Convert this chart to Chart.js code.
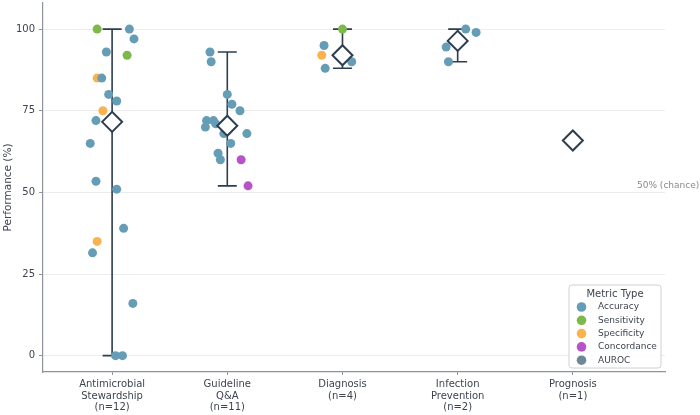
<!DOCTYPE html>
<html>
<head>
<meta charset="utf-8">
<script src="https://cdn.jsdelivr.net/npm/chart.js@4/dist/chart.umd.min.js"></script>
<style>
  html, body { margin: 0; padding: 0; background: #fff; }
  #wrap { width: 700px; height: 415px; }
</style>
</head>
<body>
<div id="wrap"><canvas id="chart" width="700" height="415"></canvas></div>
<script>
// categories / tick labels
const categories = [
    ['Antimicrobial', 'Stewardship', '(n=12)'],
    ['Guideline', 'Q&A', '(n=11)'],
    ['Diagnosis', '(n=4)'],
    ['Infection', 'Prevention', '(n=2)'],
    ['Prognosis', '(n=1)']
];
const yTicks = [0, 25, 50, 75, 100];
const metricNames = ['Accuracy', 'Sensitivity', 'Specificity', 'Concordance', 'AUROC'];

// points per metric: [category index, value, jitter]
const accuracyPts = [
    [0, 100, 0.15], [0, 97, 0.19], [0, 93, -0.05], [0, 85, -0.09], [0, 80, -0.03],
    [0, 78, 0.04], [0, 72, -0.14], [0, 65, -0.19], [0, 53.4, -0.14], [0, 51, 0.04],
    [0, 39, 0.10], [0, 31.5, -0.17], [0, 16, 0.18], [0, 0, 0.03], [0, 0, 0.09],
    [1, 93, -0.15], [1, 90, -0.14], [1, 80, 0.0], [1, 77, 0.04], [1, 75, 0.11],
    [1, 72, -0.18], [1, 72, -0.12], [1, 71, -0.10], [1, 70, -0.19], [1, 68, -0.03],
    [1, 68, 0.17], [1, 65, 0.03], [1, 62, -0.08], [1, 60, -0.06],
    [2, 95, -0.16], [2, 90, 0.08], [2, 88, -0.15],
    [3, 100, 0.07], [3, 99, 0.16], [3, 94.5, -0.10], [3, 90, -0.08]
];
const sensitivityPts = [[0, 100, -0.13], [0, 92, 0.13], [2, 100, 0.0]];
const specificityPts = [[0, 85, -0.13], [0, 75, -0.08], [0, 35, -0.13], [2, 92, -0.18]];
const concordancePts = [[1, 60, 0.12], [1, 52, 0.18]];
const aurocPts = [[4, 66, 0.0]];

// mean and range per category
const meanVals = [71.6, 70.4, 92, 96.4, 65.9];
const rangeLow = [0, 52, 88, 90, null];
const rangeHigh = [100, 93, 100, 100, null];

const metricColors = ['#669db6', '#7cb84a', '#f9b34e', '#b653c9', '#6f8796'];
const darkColor = '#2c3e50';
const textColor = '#3d4450';
const axisColor = '#8c939c';
const FONT = "'DejaVu Sans', sans-serif";

function toXY(pts) {
    return pts.map(p => ({ x: p[0] + p[2], y: p[1] }));
}

const metricData = [accuracyPts, sensitivityPts, specificityPts, concordancePts, aurocPts];

const datasets = [{
    label: 'Mean',
    data: meanVals.map((v, i) => ({ x: i, y: v })),
    pointStyle: 'rectRot',
    pointRadius: 10,
    pointHoverRadius: 10,
    backgroundColor: '#ffffff',
    borderColor: darkColor,
    borderWidth: 2,
    order: 0
}];
metricNames.forEach((name, i) => {
    datasets.push({
        label: name,
        data: toXY(metricData[i]),
        pointRadius: 4.5,
        pointHoverRadius: 4.5,
        backgroundColor: metricColors[i],
        borderWidth: 0,
        order: 1
    });
});

// error bars (range) under the points
const rangeBars = {
    id: 'rangeBars',
    beforeDatasetsDraw(chart) {
        const { ctx, scales: { x, y } } = chart;
        ctx.save();
        ctx.strokeStyle = darkColor;
        ctx.lineWidth = 1.6;
        rangeLow.forEach((lo, i) => {
            if (lo === null) return;
            const px = x.getPixelForValue(i);
            const yLo = y.getPixelForValue(lo);
            const yHi = y.getPixelForValue(rangeHigh[i]);
            ctx.beginPath();
            ctx.moveTo(px, yLo); ctx.lineTo(px, yHi);
            ctx.moveTo(px - 9.5, yLo); ctx.lineTo(px + 9.5, yLo);
            ctx.moveTo(px - 9.5, yHi); ctx.lineTo(px + 9.5, yHi);
            ctx.stroke();
        });
        ctx.restore();
    }
};

// chance label + legend box
const extras = {
    id: 'extras',
    afterDraw(chart) {
        const { ctx, chartArea, scales: { y } } = chart;
        ctx.save();
        ctx.font = '9px ' + FONT;
        ctx.fillStyle = '#8a8a8a';
        ctx.textAlign = 'left';
        ctx.textBaseline = 'alphabetic';
        ctx.fillText('50% (chance)', chartArea.right - 28, y.getPixelForValue(50) - 4);

        const w = 92, h = 83;
        const bx = chartArea.right - 4 - w, by = chartArea.bottom - 4 - h;
        ctx.beginPath();
        ctx.roundRect(bx, by, w, h, 3);
        ctx.fillStyle = 'rgba(255,255,255,0.9)';
        ctx.fill();
        ctx.strokeStyle = '#d0d0d0';
        ctx.lineWidth = 1;
        ctx.stroke();

        ctx.fillStyle = textColor;
        ctx.font = '10px ' + FONT;
        ctx.textAlign = 'center';
        ctx.textBaseline = 'middle';
        ctx.fillText('Metric Type', bx + w / 2, by + 9);
        ctx.font = '9px ' + FONT;
        ctx.textAlign = 'left';
        metricNames.forEach((name, i) => {
            const cy = by + 22 + i * 13.3;
            ctx.beginPath();
            ctx.arc(bx + 12.5, cy, 4.8, 0, Math.PI * 2);
            ctx.fillStyle = metricColors[i];
            ctx.fill();
            ctx.fillStyle = textColor;
            ctx.fillText(name, bx + 29, cy);
        });
        ctx.restore();
    }
};

new Chart(document.getElementById('chart'), {
    type: 'scatter',
    data: { datasets: datasets },
    options: {
        responsive: false,
        animation: false,
        devicePixelRatio: 1,
        layout: { autoPadding: false, padding: { top: 3, right: 35, left: 0, bottom: 0 } },
        plugins: {
            legend: { display: false },
            tooltip: { enabled: false }
        },
        scales: {
            x: {
                type: 'linear',
                min: -0.6,
                max: 4.8,
                afterBuildTicks: axis => { axis.ticks = categories.map((c, i) => ({ value: i })); },
                afterFit: axis => {
                    axis.height = 43;
                    axis.paddingLeft = 0;
                    axis.paddingRight = 0;
                },
                ticks: {
                    autoSkip: false,
                    maxRotation: 0,
                    padding: 4,
                    color: textColor,
                    font: { family: FONT, size: 10, lineHeight: 1.15 },
                    callback: v => categories[v]
                },
                grid: { drawOnChartArea: false, drawTicks: true, tickLength: 3, color: axisColor, lineWidth: 1 },
                border: { display: true, color: axisColor, width: 1.2 }
            },
            y: {
                min: -5,
                max: 108,
                afterBuildTicks: axis => { axis.ticks = yTicks.map(v => ({ value: v })); },
                afterFit: axis => {
                    axis.width = 43;
                    axis.paddingTop = 0;
                    axis.paddingBottom = 0;
                },
                title: {
                    display: true,
                    text: 'Performance (%)',
                    color: textColor,
                    font: { family: FONT, size: 10.5 },
                    padding: { top: 2, bottom: 4 }
                },
                ticks: {
                    padding: 4,
                    color: textColor,
                    font: { family: FONT, size: 10 }
                },
                grid: { color: '#ececec', lineWidth: 1, drawTicks: true, tickLength: 4, tickColor: axisColor },
                border: { display: true, color: axisColor, width: 1.2 }
            }
        }
    },
    plugins: [rangeBars, extras]
});
</script>
</body>
</html>
